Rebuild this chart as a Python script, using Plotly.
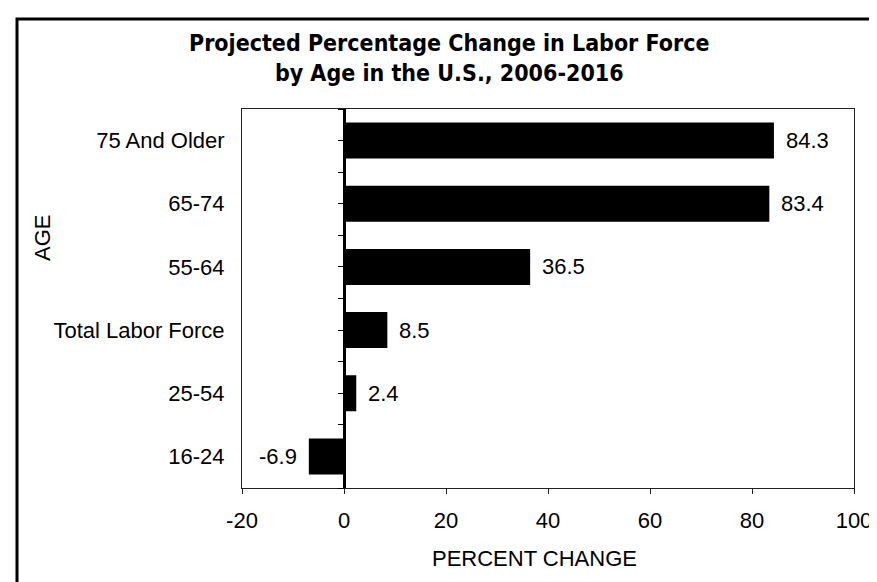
import plotly.graph_objects as go

categories = ["16-24", "25-54", "Total Labor Force", "55-64", "65-74", "75 And Older"]
values = [-6.9, 2.4, 8.5, 36.5, 83.4, 84.3]
positions = [0, 1, 2, 3, 4, 5]
x_ticks = [-20, 0, 20, 40, 60, 80, 100]
x_tick_text = ["-20", "0", "20", "40", "60", "80", "100"]
y_minor_ticks = [-0.5, 0, 0.5, 1, 1.5, 2, 2.5, 3, 3.5, 4, 4.5, 5, 5.5]

W, H = 877, 582
L, R, T, B = 234, 31, 101, 102
pw, ph = W - L - R, H - T - B

def px(xp):
    return (xp - L) / pw

def py(yp):
    return (H - B - yp) / ph

cond = "DejaVu Sans Condensed, Liberation Sans, Arial, sans-serif"
regular = "Liberation Sans, Arial, sans-serif"

fig = go.Figure()
fig.add_trace(go.Bar(
    x=values, y=positions, orientation="h", width=0.57,
    marker=dict(color="black", line=dict(width=0)),
    hoverinfo="skip", showlegend=False,
))
fig.add_trace(go.Scatter(
    x=values, y=positions, yaxis="y2", mode="markers",
    marker=dict(opacity=0), hoverinfo="skip", showlegend=False,
))

annotations = []
for v, p in zip(values, positions):
    annotations.append(dict(
        x=v, y=p, xref="x", yref="y", text=f"{v:.1f}", showarrow=False,
        xanchor="left" if v >= 0 else "right", xshift=10 if v >= 0 else -10,
        font=dict(family=regular, size=22, color="black"),
    ))

annotations.append(dict(
    x=px(441), y=py(50), xref="paper", yref="paper", showarrow=False,
    text="<b>Projected Percentage Change in Labor Force<br>by Age in the U.S., 2006-2016</b>",
    font=dict(family=cond, size=23, color="black"), xanchor="center", yanchor="middle",
))
annotations.append(dict(
    x=px(34), y=py(230), xref="paper", yref="paper", showarrow=False,
    text="AGE", textangle=-90, font=dict(family=regular, size=22, color="black"),
    xanchor="center", yanchor="middle",
))
annotations.append(dict(
    x=px(526), y=py(550), xref="paper", yref="paper", showarrow=False,
    text="PERCENT CHANGE", font=dict(family=regular, size=22, color="black"),
    xanchor="center", yanchor="middle",
))

fig.update_layout(
    width=W, height=H,
    margin=dict(l=L, r=R, t=T, b=B, pad=0),
    paper_bgcolor="white", plot_bgcolor="white",
    annotations=annotations,
    xaxis=dict(
        range=[-20, 100], tickvals=x_ticks, ticktext=x_tick_text,
        ticks="outside", ticklen=5,
        tickcolor="#222", tickwidth=1, showgrid=False, zeroline=False,
        showline=True, linecolor="#222", linewidth=1, mirror=True,
        tickfont=dict(family=regular, size=22, color="black"),
        ticklabelstandoff=8,
    ),
    yaxis=dict(
        range=[-0.5, 5.5], tickvals=positions, ticktext=categories,
        ticks="", showgrid=False, zeroline=False,
        showline=True, linecolor="#222", linewidth=1, mirror=True,
        tickfont=dict(family=regular, size=22, color="black"),
        ticklabelstandoff=12,
    ),
    yaxis2=dict(
        range=[-0.5, 5.5], overlaying="y", anchor="free", position=1/6,
        side="left", tickvals=y_minor_ticks, ticks="outside", ticklen=5,
        tickcolor="black", tickwidth=1, showticklabels=False,
        showgrid=False, zeroline=False,
        showline=True, linecolor="black", linewidth=2.5,
    ),
    shapes=[dict(
        type="rect", xref="paper", yref="paper",
        x0=px(9), x1=px(871), y0=py(600), y1=py(11),
        line=dict(color="black", width=3), fillcolor="rgba(0,0,0,0)",
    )],
)

fig.write_html("out.html")
